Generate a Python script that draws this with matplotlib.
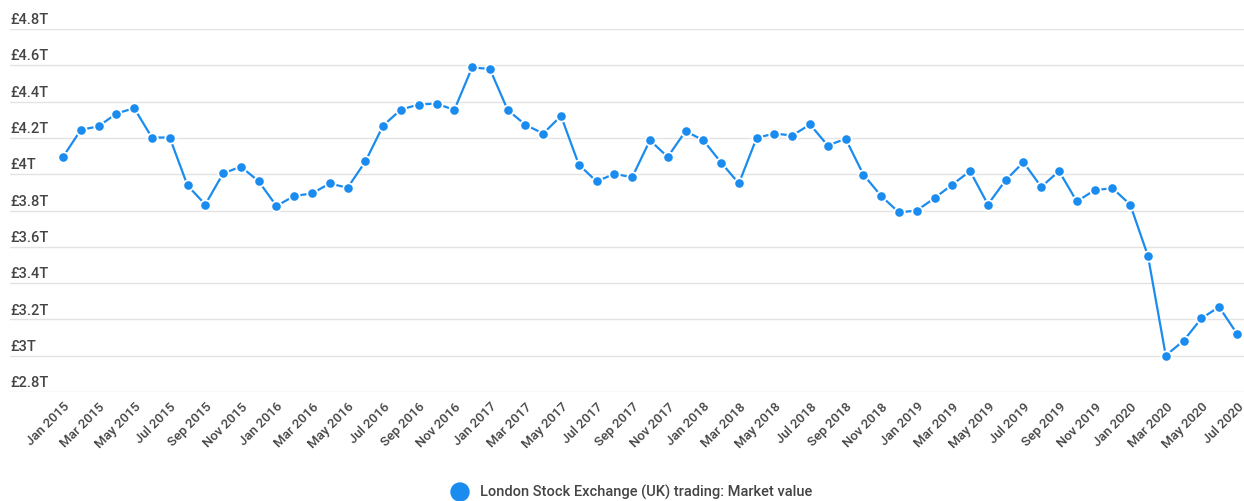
import matplotlib
matplotlib.use("Agg")
import matplotlib.pyplot as plt
import matplotlib.transforms as mtransforms

plt.rcParams['font.family'] = ['Roboto', 'DejaVu Sans']

months = ["Jan", "Feb", "Mar", "Apr", "May", "Jun", "Jul", "Aug", "Sep", "Oct", "Nov", "Dec"]
dates = [f"{months[i % 12]} {2015 + i // 12}" for i in range(67)]

values = [
    4.095, 4.244, 4.264, 4.334, 4.364, 4.202, 4.202, 3.938, 3.833, 4.004, 4.042, 3.961,
    3.825, 3.880, 3.894, 3.949, 3.925, 4.070, 4.268, 4.356, 4.384, 4.389, 4.354, 4.588,
    4.580, 4.354, 4.272, 4.224, 4.321, 4.053, 3.960, 4.002, 3.983, 4.187, 4.095, 4.237,
    4.187, 4.064, 3.949, 4.200, 4.224, 4.213, 4.274, 4.158, 4.195, 3.998, 3.880, 3.789,
    3.800, 3.868, 3.943, 4.017, 3.833, 3.967, 4.066, 3.930, 4.017, 3.850, 3.912, 3.923,
    3.833, 3.550, 3.001, 3.082, 3.205, 3.269, 3.122,
]

y_ticks = [2.8, 3.0, 3.2, 3.4, 3.6, 3.8, 4.0, 4.2, 4.4, 4.6, 4.8]
y_labels = ["£2.8T", "£3T", "£3.2T", "£3.4T", "£3.6T", "£3.8T", "£4T", "£4.2T", "£4.4T", "£4.6T", "£4.8T"]
series_name = "London Stock Exchange (UK) trading: Market value"

blue = "#1a8cf0"
text_color = "#444444"

fig = plt.figure(figsize=(12.44, 5.01), dpi=100)
ax = fig.add_axes([10 / 1244, 109 / 501, 1234 / 1244, 363 / 501])

x = list(range(len(values)))
ax.plot(x, values, color=blue, lw=1.6, marker='o', markersize=7.5,
        markerfacecolor=blue, markeredgecolor='white', markeredgewidth=1.3, zorder=3)

ax.set_ylim(2.8, 4.8)
ax.set_xlim(-2.98, 66.4)

for s in ax.spines.values():
    s.set_visible(False)

ax.set_yticks(y_ticks)
ax.set_yticklabels([])
ax.tick_params(axis='y', length=0)
ax.grid(axis='y', color='#e3e3e3', lw=1.0)
ax.set_axisbelow(True)

trans = mtransforms.blended_transform_factory(ax.transAxes, ax.transData)
offset = mtransforms.offset_copy(trans, fig=fig, x=0, y=3.5, units='points')
for v, lab in zip(y_ticks, y_labels):
    ax.text(0.0, v, lab, transform=offset, ha='left', va='baseline',
            fontsize=10.5, fontweight='medium', color=text_color)

tick_idx = list(range(0, 67, 2))
ax.set_xticks(tick_idx)
ax.set_xticklabels([dates[i] for i in tick_idx], rotation=45, ha='right',
                   rotation_mode='anchor', fontsize=9.5, fontweight='medium',
                   color=text_color)
ax.tick_params(axis='x', length=0, pad=6)

# legend
fig.patches.append(matplotlib.patches.Ellipse((460 / 1244, 1 - 492 / 501), 18 / 1244, 18 / 501,
                                              transform=fig.transFigure, color=blue))
fig.text(480 / 1244, 1 - 492 / 501, series_name, ha='left', va='center',
         fontsize=10.5, fontweight='medium', color=text_color)

fig.savefig("out.png", dpi=100, facecolor='white')
